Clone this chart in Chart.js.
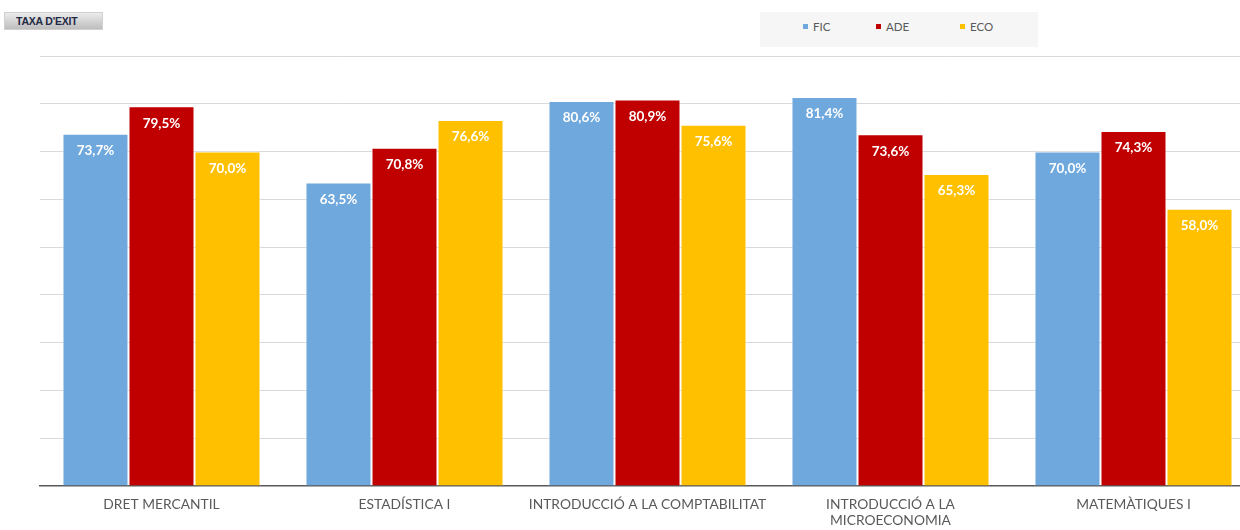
<!DOCTYPE html>
<html><head><meta charset="utf-8">
<script src="https://cdn.jsdelivr.net/npm/chart.js@4"></script>
<style>
html,body{margin:0;padding:0;background:#fff;overflow:hidden;width:1240px;height:530px;}
#wrap{position:absolute;left:0;top:0;width:1260px;height:531px;}
#btn{position:absolute;left:4px;top:12px;width:99px;height:18px;background:linear-gradient(#ececec,#bdbdbd);border:1px solid #d0d0d0;box-sizing:border-box;font:bold 10.5px "Liberation Sans",Arial,sans-serif;color:#1f2a44;text-align:left;padding-left:11px;line-height:16px;letter-spacing:-0.2px;}
#legend{position:absolute;left:760px;top:12px;width:278px;height:35px;background:#f6f6f6;font:11.5px Lato,"Open Sans",sans-serif;color:#595959;}
#legend span.it{position:absolute;top:8px;}
#legend i{display:inline-block;width:5px;height:5px;margin-right:5px;vertical-align:2px;}
</style></head>
<body>
<div id="wrap"><canvas id="c" width="1260" height="531"></canvas></div>
<div id="btn">TAXA D'EXIT</div>
<div id="legend"></div>
<script>
const categories = ["DRET MERCANTIL", "ESTADÍSTICA I", "INTRODUCCIÓ A LA COMPTABILITAT", ["INTRODUCCIÓ A LA", "MICROECONOMIA"], "MATEMÀTIQUES I"];
const seriesNames = ["FIC", "ADE", "ECO"];
const ficValues = [73.7, 63.5, 80.6, 81.4, 70.0];
const adeValues = [79.5, 70.8, 80.9, 73.6, 74.3];
const ecoValues = [70.0, 76.6, 75.6, 65.3, 58.0];
const seriesColors = ["#6fa8dc", "#c00000", "#ffc000"];

const datasets = [ficValues, adeValues, ecoValues].map((v, i) => ({
  label: seriesNames[i], data: v, backgroundColor: seriesColors[i],
  borderColor: "rgba(255,255,255,0.6)", borderWidth: 1, borderSkipped: "bottom",
  barPercentage: 1, categoryPercentage: 0.815
}));

// HTML legend from the series
const lg = document.getElementById('legend');
const lx = [43, 116, 200];
seriesNames.forEach((n, i) => {
  const s = document.createElement('span'); s.className = 'it'; s.style.left = lx[i] + 'px';
  s.innerHTML = '<i style="background:' + seriesColors[i] + '"></i>' + n; lg.appendChild(s);
});

const labelPlugin = {
  id: 'vals',
  afterDatasetsDraw(chart) {
    const ctx = chart.ctx; ctx.save();
    ctx.font = 'bold 13.5px Lato, "Open Sans", sans-serif';
    ctx.fillStyle = '#ffffff'; ctx.textAlign = 'center'; ctx.textBaseline = 'middle';
    chart.data.datasets.forEach((ds, di) => {
      chart.getDatasetMeta(di).data.forEach((bar, j) => {
        ctx.fillText(ds.data[j].toFixed(1).replace('.', ',') + '%', bar.x, bar.y + 17);
      });
    });
    ctx.restore();
  }
};

new Chart(document.getElementById('c'), {
  type: 'bar',
  data: { labels: categories, datasets },
  options: {
    responsive: false, animation: false,
    layout: { padding: { left: 40, right: 5, top: 56, bottom: 0 } },
    plugins: { legend: { display: false }, tooltip: { enabled: false } },
    scales: {
      x: {
        grid: { display: false },
        border: { display: true, color: '#595959', width: 1.5 },
        ticks: { color: '#595959', font: { family: 'Lato, "Open Sans", sans-serif', size: 13.8 }, padding: 2, maxRotation: 0, autoSkip: false }
      },
      y: {
        min: 0, max: 90,
        ticks: { display: false, stepSize: 10 },
        grid: { color: '#d9d9d9', lineWidth: 1, drawTicks: false },
        border: { display: false }
      }
    }
  },
  plugins: [labelPlugin]
});
</script>
</body></html>
